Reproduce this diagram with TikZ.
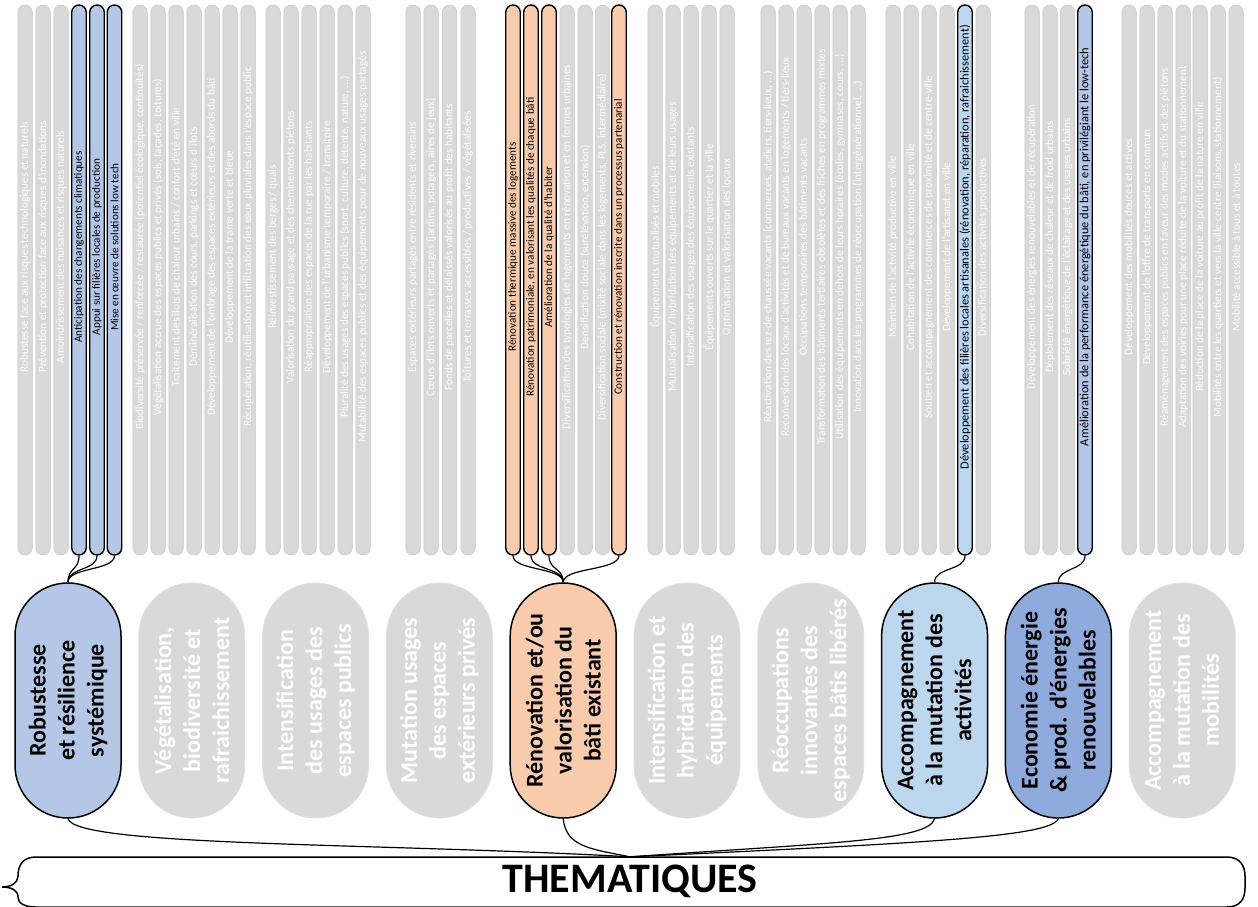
\documentclass[tikz,border=0pt]{standalone}
\usepackage{fontspec}
\setmainfont{Carlito}
\definecolor{greyfill}{HTML}{D9D9D9}
\definecolor{robblue}{HTML}{B4C7E7}
\definecolor{renorange}{HTML}{F8CBAD}
\definecolor{actblue}{HTML}{BDD7EE}
\definecolor{enerblue}{HTML}{8FAADC}
\begin{document}
\begin{tikzpicture}[x=1pt, y=-1pt,
  barbase/.style={rotate=90, minimum width=550pt, minimum height=14.5pt, inner sep=0pt, rounded corners=7.2pt, font=\fontsize{11.2}{12}\selectfont, execute at begin node={\hskip 66pt}},
  gbar/.style={barbase, fill=greyfill, draw=black!22, line width=0.5pt, text=white},
  cbar/.style={barbase, draw=black, line width=1.4pt, text=black},
  pillbase/.style={rotate=90, minimum width=235pt, minimum height=106pt, inner sep=0pt, rounded corners=52.9pt, align=center, font=\bfseries\fontsize{24}{29}\selectfont},
  gpill/.style={pillbase, fill=greyfill, draw=black!12, line width=0.8pt, text=white},
  cpill/.style={pillbase, draw=black, line width=1.5pt},
  link/.style={line width=1.2pt}]

  \fill[white] (0,0) rectangle (1258,906);
  \useasboundingbox (0,0) rectangle (1258,906);

  % thematiques
  \node[cpill, fill=robblue] (robust) at (68,700.5) {Robustesse\\et résilience\\systémique};
  \node[gpill] (veget) at (191.8,700.5) {Végétalisation,\\biodiversité et\\rafraichissement};
  \node[gpill] (espub) at (315.6,700.5) {Intensification\\des usages des\\espaces publics};
  \node[gpill] (espriv) at (439.4,700.5) {Mutation usages\\des espaces\\extérieurs privés};
  \node[cpill, fill=renorange] (renov) at (563.2,700.5) {Rénovation et/ou\\valorisation du\\bâti existant};
  \node[gpill] (equip) at (687,700.5) {Intensification et\\hybridation des\\équipements};
  \node[gpill] (reocc) at (810.8,700.5) {Réoccupations\\innovantes des\\espaces bâtis libérés};
  \node[cpill, fill=actblue] (activ) at (934.6,700.5) {Accompagnement\\à la mutation des\\activités};
  \node[cpill, fill=enerblue] (energ) at (1058.4,700.5) {Economie énergie\\\& prod. d’énergies\\renouvelables};
  \node[gpill] (mobil) at (1182.2,700.5) {Accompagnement\\à la mutation des\\mobilités};

  % robustesse
  \node[gbar] (a1) at (25,280) {Robustesse face aux risques technologiques et naturels};
  \node[gbar] (a2) at (43,280) {Prévention et protection face aux risques d’inondations};
  \node[gbar] (a3) at (61,280) {Amoindrissement des nuisances et risques naturels};
  \node[cbar, fill=robblue] (a4) at (79,280) {Anticipation des changements climatiques};
  \node[cbar, fill=robblue] (a5) at (97,280) {Appui sur filières locales de production};
  \node[cbar, fill=robblue] (a6) at (114.5,280) {Mise en œuvre de solutions low tech};

  % vegetalisation
  \node[gbar] (b1) at (140,280) {Biodiversité préservée / renforcée / restaurée (potentiel écologique, continuités)};
  \node[gbar] (b2) at (158,280) {Végétalisation accrue des espaces publics et privés (sols, façades, toitures)};
  \node[gbar] (b3) at (176,280) {Traitement des îlots de chaleur urbains / confort d’été en ville};
  \node[gbar] (b4) at (194,280) {Déminéralisation des cours, parkings et cœurs d’îlots};
  \node[gbar] (b5) at (212,280) {Développement de l’ombrage des espaces extérieurs et des abords du bâti};
  \node[gbar] (b6) at (230,280) {Développement de la trame verte et bleue};
  \node[gbar] (b7) at (248,280) {Récupération, réutilisation et infiltration des eaux pluviales dans l’espace public};

  % espaces publics
  \node[gbar] (c1) at (273,280) {Réinvestissement des berges / quais};
  \node[gbar] (c2) at (291,280) {Valorisation du grand paysage et des cheminements piétons};
  \node[gbar] (c3) at (309,280) {Réappropriation des espaces de la rue par les habitants};
  \node[gbar] (c4) at (327,280) {Développement de l’urbanisme temporaire / transitoire};
  \node[gbar] (c5) at (345,280) {Pluralité des usages des espaces publics (sport, culture, détente, nature, ...)};
  \node[gbar] (c6) at (363,280) {Mutabilité des espaces publics et des équipements pour de nouveaux usages partagés};

  % espaces prives
  \node[gbar] (d1) at (413,280) {Espaces extérieurs partagés entre résidents et riverains};
  \node[gbar] (d2) at (431,280) {Cœurs d’îlots ouverts et partagés (jardins, potagers, aires de jeux)};
  \node[gbar] (d3) at (449.5,280) {Fonds de parcelles et délaissés valorisés au profit des habitants};
  \node[gbar] (d4) at (468,280) {Toitures et terrasses accessibles / productives / végétalisées};

  % renovation
  \node[cbar, fill=renorange] (e1) at (513,280) {Rénovation thermique massive des logements};
  \node[cbar, fill=renorange] (e2) at (531,280) {Rénovation patrimoniale, en valorisant les qualités de chaque bâti};
  \node[cbar, fill=renorange] (e3) at (549,280) {Amélioration de la qualité d’habiter};
  \node[gbar] (e4) at (567,280) {Diversification des typologies de logements en rénovation et en formes urbaines};
  \node[gbar] (e5) at (585,280) {Densification douce (surélévation, extension)};
  \node[gbar] (e6) at (602.5,280) {Diversification sociale (mixité sociale dans les logements, PLS, intermédiaire)};
  \node[cbar, fill=renorange] (e7) at (619,280) {Construction et rénovation inscrite dans un processus partenarial};

  % equipements
  \node[gbar] (f1) at (655,280) {Équipements mutualisés et mobiles};
  \node[gbar] (f2) at (673,280) {Mutualisation / hybridation des équipements et de leurs usages};
  \node[gbar] (f3) at (691,280) {Intensification des usages des équipements existants};
  \node[gbar] (f4) at (709,280) {Équipements ouverts sur le quartier et la ville};
  \node[gbar] (f5) at (727,280) {Optimisation et valorisation des locaux};

  % reoccupations
  \node[gbar] (g1) at (768,280) {Réactivation des rez-de-chaussée vacants (commerces, ateliers, tiers-lieux, ...)};
  \node[gbar] (g2) at (786,280) {Reconversion des locaux d’activités et de bureaux vacants en logements / tiers-lieux};
  \node[gbar] (g3) at (804,280) {Occupations temporaires des bâtiments vacants};
  \node[gbar] (g4) at (822,280) {Transformation des bâtiments tertiaires obsolètes et des friches en programmes mixtes};
  \node[gbar] (g5) at (840,280) {Utilisation des équipements en dehors de leurs horaires (écoles, gymnases, cours, ...)};
  \node[gbar] (g6) at (858,280) {Innovation dans les programmes de réoccupation (intergénérationnel, ...)};

  % activites
  \node[gbar] (h1) at (893,280) {Maintien de l’activité productive en ville};
  \node[gbar] (h2) at (911,280) {Cohabitation de l’activité économique en ville};
  \node[gbar] (h3) at (929,280) {Soutien et accompagnement des commerces de proximité et de centre-ville};
  \node[gbar] (h4) at (947,280) {Développement de l’artisanat en ville};
  \node[cbar, fill=actblue, font=\fontsize{12.4}{13}\selectfont] (h5) at (965,280) {Développement des filières locales artisanales (rénovation, réparation, rafraichissement)};
  \node[gbar] (h6) at (983,280) {Diversification des activités productives};

  % energie
  \node[gbar] (i1) at (1032,280) {Développement des énergies renouvelables et de récupération};
  \node[gbar] (i2) at (1050,280) {Déploiement des réseaux de chaleur et de froid urbains};
  \node[gbar] (i3) at (1067.5,280) {Sobriété énergétique de l’éclairage et des usages urbains};
  \node[cbar, fill=robblue, font=\fontsize{12.4}{13}\selectfont] (i4) at (1085,280) {Amélioration de la performance énergétique du bâti, en privilégiant le low-tech};

  % mobilites
  \node[gbar] (j1) at (1129,280) {Développement des mobilités douces et actives};
  \node[gbar] (j2) at (1147,280) {Développement de l’offre de transports en commun};
  \node[gbar] (j3) at (1165,280) {Réaménagement des espaces publics en faveur des modes actifs et des piétons};
  \node[gbar] (j4) at (1183,280) {Adaptation des voiries pour une place réduite de la voiture et du stationnement};
  \node[gbar] (j5) at (1200,280) {Réduction de la place de la voiture au profit de la nature en ville};
  \node[gbar] (j6) at (1218,280) {Mobilités entre les quartiers et vers la ville-centre (liaisons, stationnement)};
  \node[gbar] (j7) at (1236,280) {Mobilité accessible à tous et à toutes};

  % cadre
  \node[font=\bfseries\fontsize{42}{50}\selectfont, minimum width=1230pt, minimum height=48pt, inner sep=0pt] (them) at (630,881) {THEMATIQUES};
  \draw[line width=1.5pt] (36,857) -- (1227,857)
    .. controls (1240,857) and (1245,866) .. (1245,876) -- (1245,888)
    .. controls (1245,899) and (1240,907) .. (1227,907) -- (36,907)
    .. controls (24,907) and (18,903) .. (18,897)
    .. controls (18,890) and (11,887) .. (2,887)
    .. controls (11,887) and (18,883) .. (18,876)
    .. controls (18,864) and (24,857) .. (36,857);

  % liens barres -> thematiques
  \foreach \b in {a4,a5,a6}
    \draw[link] (\b.west) .. controls +(0,15) and +(0,-15) .. (robust.east);
  \foreach \b in {e1,e2,e3,e7}
    \draw[link] (\b.west) .. controls +(0,15) and +(0,-15) .. (renov.east);
  \draw[link] (h5.west) .. controls +(0,15) and +(0,-15) .. (activ.east);
  \draw[link] (i4.west) .. controls +(0,15) and +(0,-15) .. (energ.east);

  % liens thematiques -> cadre
  \draw[link] (robust.west) .. controls +(8,28) and +(-250,-14) .. (them.north);
  \draw[link] (renov.west) .. controls +(3,28) and +(-40,-8) .. (them.north);
  \draw[link] (activ.west) .. controls +(-6,22) and +(200,-14) .. (them.north);
  \draw[link] (energ.west) .. controls +(-8,18) and +(300,-14) .. (them.north);

\end{tikzpicture}
\end{document}
